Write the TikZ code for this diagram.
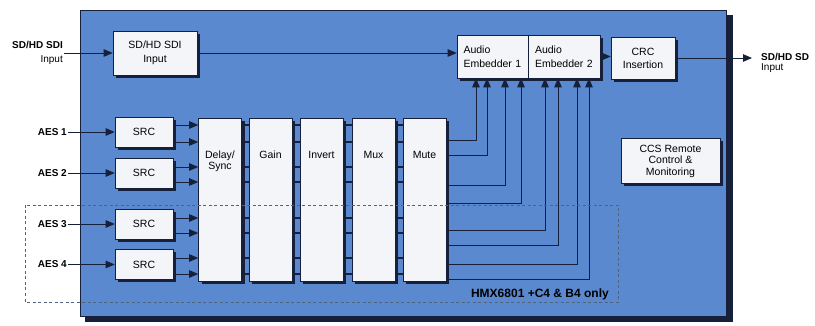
\documentclass[tikz,border=0pt]{standalone}
\usepackage{fontspec}
\setmainfont{Liberation Sans}
\usepackage{xcolor}
\usepackage{tikz}
\usetikzlibrary{positioning, arrows.meta, calc, shadows}
\definecolor{panelBlue}{HTML}{5A89CF}
\definecolor{boxFill}{HTML}{F3F5F9}
\definecolor{wireNavy}{HTML}{17203A}
\definecolor{dashGrey}{HTML}{4F6480}

\begin{document}
\begin{tikzpicture}[x=1pt, y=-1pt,
    every node/.style={font=\fontsize{10.5}{12}\selectfont},
    blk/.style={draw=wireNavy, fill=boxFill, line width=0.6pt, inner sep=0pt,
      drop shadow={shadow xshift=3pt, shadow yshift=-3pt, fill=wireNavy, opacity=1}},
    procbox/.style={blk, minimum width=43pt, minimum height=163pt},
    srcbox/.style={blk, minimum width=58pt, minimum height=30pt},
    proctext/.style={inner sep=2pt, align=center},
    lbl/.style={font=\fontsize{10}{11.5}\selectfont\bfseries, inner sep=1pt},
    wire/.style={draw=wireNavy, line width=0.9pt},
    sig/.style={wire, -{Triangle[length=9pt, width=7.5pt]}}]
  \useasboundingbox (0,0) rectangle (815,326);
  % panel
  \fill[wireNavy] (85,15) rectangle (733,322);
  \draw[wireNavy, fill=panelBlue, line width=0.6pt] (80,10) rectangle (726,316);

  % SDI path — TOP
  \node[blk, minimum width=84pt, minimum height=44pt, align=center,
    font=\fontsize{10.5}{14}\selectfont] (sdiin) at (155,53) {SD/HD SDI\\Input};
  \node[blk, minimum width=71pt, minimum height=43pt, text width=58pt, align=left,
    font=\fontsize{10.5}{14}\selectfont] (ae1) at (492.5,56.5) {Audio\\Embedder~1};
  \node[blk, minimum width=72pt, minimum height=43pt, text width=58pt, align=left,
    font=\fontsize{10.5}{14}\selectfont] (ae2) at (564,56.5) {Audio\\Embedder~2};
  \node[blk, minimum width=64pt, minimum height=42pt, align=center,
    font=\fontsize{10.5}{13}\selectfont] (crc) at (643,58) {CRC\\Insertion};
  \node[blk, minimum width=99pt, minimum height=45pt, align=center,
    font=\fontsize{10.5}{11.5}\selectfont] (ccs) at (670.5,161) {CCS Remote\\Control \&\\Monitoring};

  \node[lbl, anchor=east, align=right, font=\fontsize{10}{14}\selectfont] (sdilbl) at (64,53)
    {\textbf{SD/HD SDI}\\Input};
  \coordinate (sdiout) at (752,57);
  \node[lbl, anchor=west, align=left, font=\fontsize{10}{10}\selectfont] (outlbl) at (760,63)
    {\textbf{SD/HD SD}\\Input};

  \draw[sig] (sdilbl.east) -- (sdiin.west);
  \draw[sig] (sdiin.east) -- (sdiin.east -| ae1.west);
  \draw[sig] (ae2.east) -- (ae2.east -| crc.west);
  \draw[sig] (crc.east) -- (crc.east -| sdiout);

  % AES inputs and SRC
  \foreach \i/\y in {1/132, 2/173, 3/224, 4/264.5} {
    \node[srcbox] (src\i) at (144,\y) {SRC};
    \node[lbl, anchor=east] (aes\i) at (68,\y) {AES \i};
    \draw[sig] (aes\i.east) -- (src\i.west);
  }

  % processing chain
  \node[procbox] (delay) at (220,199.5) {};
  \node[procbox] (gain) at (270.5,199.5) {};
  \node[procbox] (invert) at (321.5,199.5) {};
  \node[procbox] (mux) at (373.5,199.5) {};
  \node[procbox] (mute) at (424.5,199.5) {};
  \node[proctext, below=31pt of delay.north, font=\fontsize{10.5}{9.5}\selectfont] (delayT) {Delay/\\Sync};
  \node[proctext, below=31pt of gain.north] (gainT) {Gain};
  \node[proctext, below=31pt of invert.north] (invertT) {Invert};
  \node[proctext, below=31pt of mux.north] (muxT) {Mux};
  \node[proctext, below=31pt of mute.north] (muteT) {Mute};

  \foreach \s/\ya/\yb in {src1/125/142, src2/167/182, src3/218/233, src4/258/274} {
    \draw[sig] (\s.east |- 0,\ya) -- (delay.west |- 0,\ya);
    \draw[sig] (\s.east |- 0,\yb) -- (delay.west |- 0,\yb);
  }
  \foreach \a/\b in {delay/gain, gain/invert, invert/mux, mux/mute}
    \foreach \y in {125,142,167,182,218,233,258,274}
      \draw[wire, line width=1.2pt] (\a.east |- 0,\y) -- (\b.west |- 0,\y);

  % mute outputs up to the embedders
  \foreach \y/\x/\e in {140/476/ae1, 155/487/ae1, 185/505/ae1, 203/521/ae1,
                        230/545/ae2, 245/558/ae2, 264/577/ae2, 279/589/ae2}
    \draw[sig] (mute.east |- 0,\y) -| (\x,0 |- \e.south);

  % option area
  \draw[dashGrey, line width=0.7pt, dash pattern=on 3pt off 2.5pt] (25,205) rectangle (618,302);
  \node[anchor=base east, font=\fontsize{12}{14}\selectfont\bfseries, inner sep=0pt] (hmx)
    at (609,298) {HMX6801 +C4 \& B4 only};
\end{tikzpicture}
\end{document}
